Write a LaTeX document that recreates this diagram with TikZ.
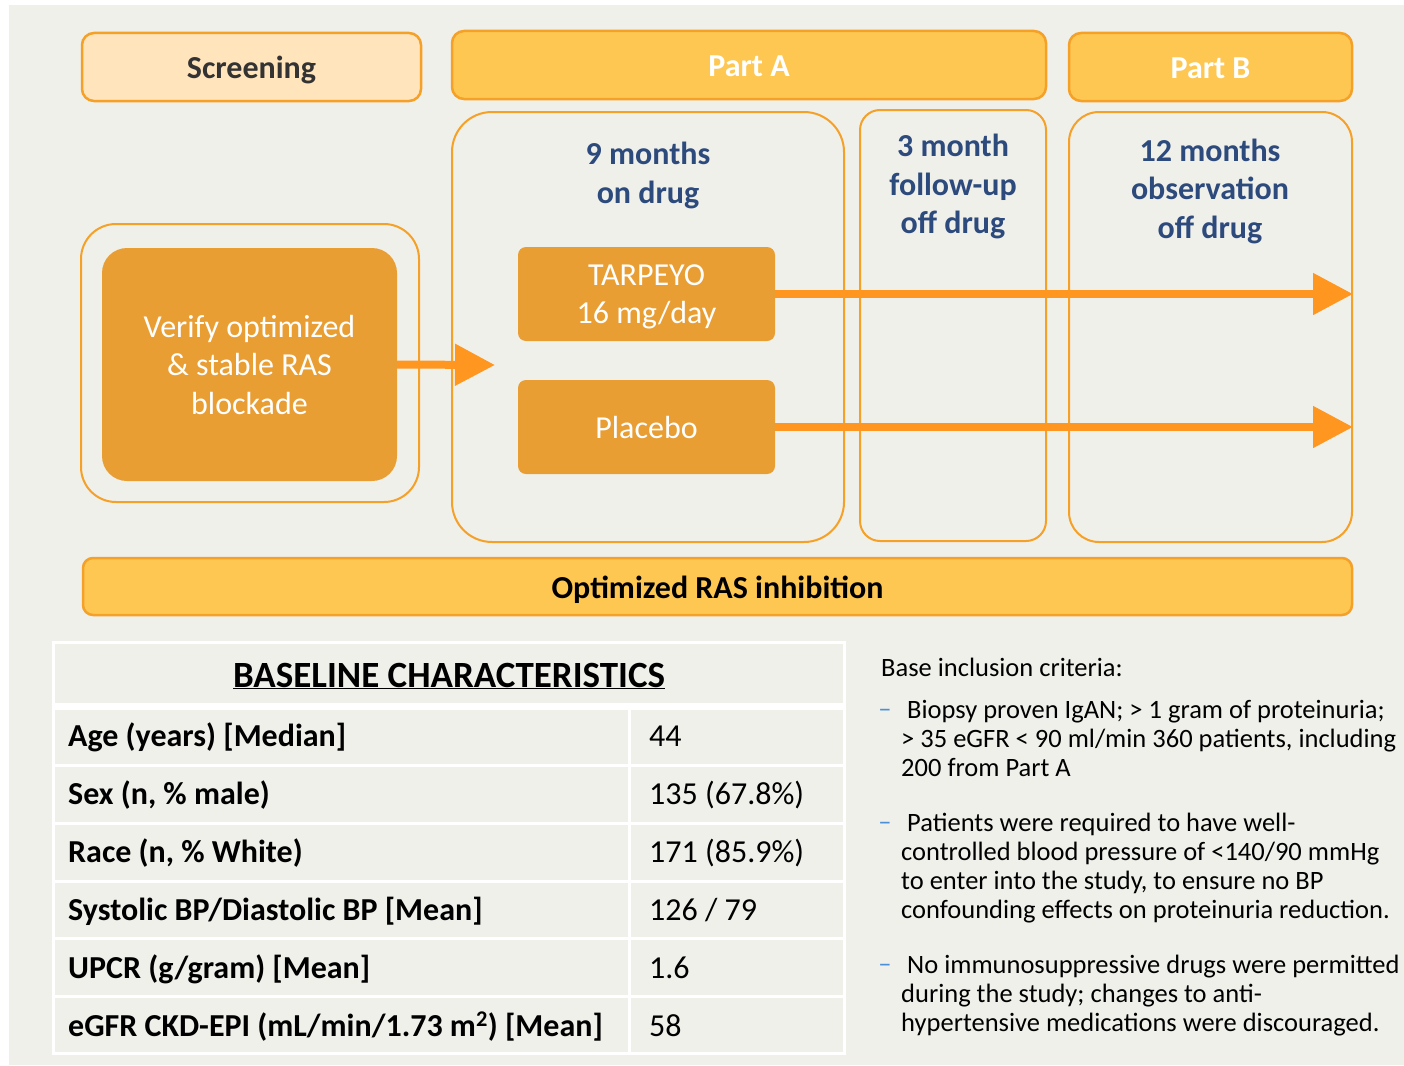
\documentclass[tikz,border=0pt]{standalone}
\usepackage{fontspec}
\setmainfont{Carlito}
\usetikzlibrary{arrows.meta}

\begin{document}
\begin{tikzpicture}[x=1pt, y=-1pt,
  phase/.style={draw=edge, line width=2.5pt, rounded corners=12pt, inner sep=0pt, minimum height=68pt, text height=23pt, text depth=0pt, font=\fontsize{32}{38}\selectfont\bfseries},
  lane/.style={draw=edge, line width=2pt, inner sep=0pt},
  drugbox/.style={fill=inner, rounded corners=8pt, inner sep=0pt, text=white, align=center, text depth=0pt, minimum width=257pt, minimum height=94pt, font=\fontsize{32}{38.5}\selectfont},
  period/.style={text=navy, align=center, inner sep=0pt, text depth=0pt, font=\fontsize{32}{38.5}\selectfont\bfseries},
  flow/.style={draw=flowcol, line width=8pt, -{Triangle[length=40pt, width=40pt]}},
  tablerule/.style={draw=white, line width=3pt},
  cell/.style={anchor=west, inner sep=0pt, text height=20pt, text depth=0pt, font=\fontsize{32}{38}\selectfont},
  crit/.style={anchor=north west, inner sep=0pt, align=left, font=\fontsize{26.5}{29}\selectfont},
  critdash/.style={text=dashblue, inner sep=0pt, font=\fontsize{26.5}{29}\selectfont},
]
\definecolor{bgcol}{HTML}{F0F0EB}
\definecolor{edge}{HTML}{F5A027}
\definecolor{peach}{HTML}{FFE4BC}
\definecolor{gold}{HTML}{FDC752}
\definecolor{inner}{HTML}{E99E33}
\definecolor{flowcol}{HTML}{FF961F}
\definecolor{navy}{HTML}{2D4A7C}
\definecolor{dashblue}{HTML}{4A8FD8}
\definecolor{darktext}{HTML}{333333}

\useasboundingbox (0,0) rectangle (1404,1065);
\fill[white] (0,0) rectangle (1404,1065);
\fill[bgcol] (9,5) rectangle (1404,1065);

\node[phase, fill=peach, text=darktext, minimum width=339pt] (screen) at (251.5,67) {Screening};
\node[phase, fill=gold, text=white, minimum width=594pt] (parta) at (749,65) {Part A};
\node[phase, fill=gold, text=white, minimum width=283pt] (partb) at (1210.5,67) {Part B};

\node[lane, rounded corners=35pt, minimum width=338pt, minimum height=278pt] (scrframe) at (250,363) {};
\node[drugbox, rounded corners=25pt, minimum width=295pt, minimum height=233pt] (verify) at (249.5,364.5) {Verify optimized\\\& stable RAS\\blockade};
\node[lane, rounded corners=40pt, minimum width=392pt, minimum height=430pt] (aframe) at (648,327) {};
\node[lane, rounded corners=20pt, minimum width=186pt, minimum height=431pt] (fuframe) at (953,325.5) {};
\node[lane, rounded corners=30pt, minimum width=283pt, minimum height=430pt] (bframe) at (1210.5,327) {};

\node[period] (onlbl) at (648,173) {9 months\\on drug};
\node[period] (fulbl) at (953,184) {3 month\\follow-up\\off drug};
\node[period] (oblbl) at (1210,188.5) {12 months\\observation\\off drug};

\node[drugbox] (tarpeyo) at (646.5,294) {TARPEYO\\16 mg/day};
\node[drugbox] (placebo) at (646.5,427) {Placebo};

\coordinate (armtip) at (495,365);
\draw[flow] (verify.east) -- (armtip);
\draw[flow] (tarpeyo.east) -- (tarpeyo.east -| bframe.east);
\draw[flow] (placebo.east) -- (placebo.east -| bframe.east);

\node[phase, fill=gold, text=black, rounded corners=10pt, minimum width=1269pt, minimum height=57pt] (ras) at (717.5,586.5) {Optimized RAS inhibition};

\draw[tablerule] (53,642) rectangle (844,1053);
\draw[draw=white, line width=7pt] (53,706) -- (844,706);
\draw[tablerule] (53,765) -- (844,765);
\draw[tablerule] (53,823) -- (844,823);
\draw[tablerule] (53,881) -- (844,881);
\draw[tablerule] (53,938) -- (844,938);
\draw[tablerule] (53,996) -- (844,996);
\draw[tablerule] (629.5,706) -- (629.5,1053);

\node[font=\fontsize{37}{42}\selectfont\bfseries, inner sep=0pt] (basehead) at (449,676) {\underline{BASELINE CHARACTERISTICS}};
\node[cell, font=\fontsize{32}{38}\selectfont\bfseries] (agel) at (68,736) {Age (years) [Median]};
\node[cell] (agev) at (649,736) {44};
\node[cell, font=\fontsize{32}{38}\selectfont\bfseries] (sexl) at (68,794) {Sex (n, \% male)};
\node[cell] (sexv) at (649,794) {135 (67.8\%)};
\node[cell, font=\fontsize{32}{38}\selectfont\bfseries] (racel) at (68,852) {Race (n, \% White)};
\node[cell] (racev) at (649,852) {171 (85.9\%)};
\node[cell, font=\fontsize{32}{38}\selectfont\bfseries] (bpl) at (68,910) {Systolic BP/Diastolic BP [Mean]};
\node[cell] (bpv) at (649,910) {126 / 79};
\node[cell, font=\fontsize{32}{38}\selectfont\bfseries] (upcrl) at (68,968) {UPCR (g/gram) [Mean]};
\node[cell] (upcrv) at (649,968) {1.6};
\node[cell, font=\fontsize{32}{38}\selectfont\bfseries] (egfrl) at (68,1026) {eGFR CKD-EPI (mL/min/1.73 m\textsuperscript{2}) [Mean]};
\node[cell] (egfrv) at (649,1026) {58};

\node[crit] (crittitle) at (881,658) {Base inclusion criteria:};
\node[critdash] (dasha) at (885,713) {–};
\node[crit] (crita) at (901,700) {\hspace*{6pt}Biopsy proven IgAN; > 1 gram of proteinuria;\\> 35 eGFR < 90 ml/min 360 patients, including\\200 from Part A};
\node[critdash] (dashb) at (885,826) {–};
\node[crit] (critb) at (901,813) {\hspace*{6pt}Patients were required to have well-\\controlled blood pressure of <140/90 mmHg\\to enter into the study, to ensure no BP\\confounding effects on proteinuria reduction.};
\node[critdash] (dashc) at (885,968) {–};
\node[crit] (critc) at (901,955) {\hspace*{6pt}No immunosuppressive drugs were permitted\\during the study; changes to anti-\\hypertensive medications were discouraged.};
\end{tikzpicture}
\end{document}
